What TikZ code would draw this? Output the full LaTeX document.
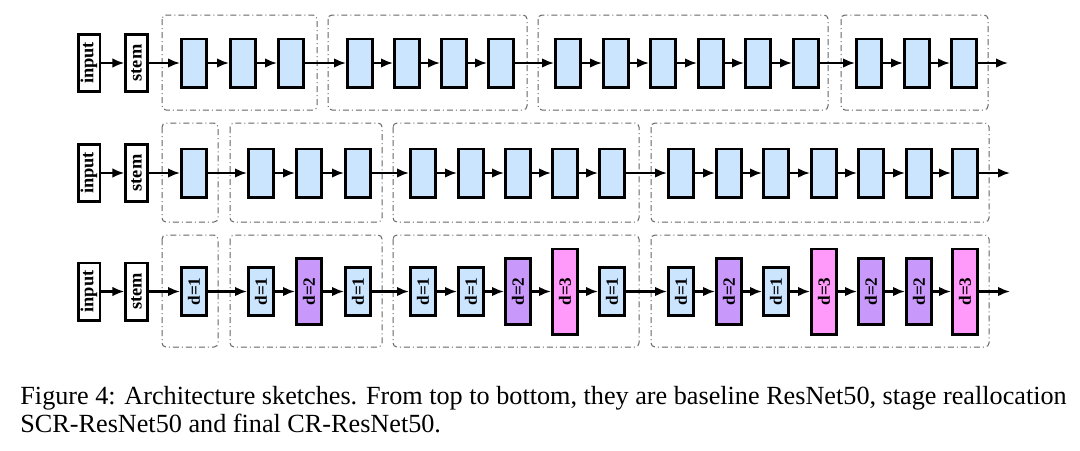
\documentclass[tikz,border=0pt]{standalone}
\usepackage{fontspec}
\setmainfont{Liberation Serif}
\usetikzlibrary{arrows.meta}

\definecolor{blkblue}{RGB}{204,229,255}
\definecolor{blkpurple}{RGB}{200,152,250}
\definecolor{blkpink}{RGB}{255,153,250}
\newcommand{\rlab}[1]{\rotatebox{90}{#1}}

\begin{document}
\begin{tikzpicture}[x=0.5pt,y=-0.5pt]
  \tikzset{io/.style={draw,line width=1.3pt,minimum width=10.8pt,minimum height=28.7pt,inner sep=0pt,
      font=\bfseries\fontsize{9.2}{10}\selectfont}}
  \tikzset{blk/.style={draw,line width=1.3pt,fill=blkblue,minimum width=12.7pt,minimum height=24.2pt,inner sep=0pt,
      font=\bfseries\fontsize{8.6}{10}\selectfont}}
  \tikzset{dtwo/.style={blk,fill=blkpurple,minimum height=33.2pt}}
  \tikzset{dthree/.style={blk,fill=blkpink,minimum height=42.7pt}}
  \tikzset{stagebox/.style={draw=black!60,line width=0.5pt,rounded corners=2pt,
      dash pattern=on 3pt off 1.5pt on 0.5pt off 1.5pt}}
  \tikzset{conn/.style={-{Latex[length=6pt,width=4.8pt]},line width=1.1pt}}
  \useasboundingbox (0,0) rectangle (1080,450);

 % stages
  \draw[stagebox] (162,15) rectangle (317,110);
  \draw[stagebox] (328,15) rectangle (527,110);
  \draw[stagebox] (538,15) rectangle (828,110);
  \draw[stagebox] (841,15) rectangle (988,110);

  \draw[stagebox] (162,123) rectangle (218,222);
  \draw[stagebox] (230,123) rectangle (382,222);
  \draw[stagebox] (393,123) rectangle (639,222);
  \draw[stagebox] (651,123) rectangle (989,222);

  \draw[stagebox] (162,235) rectangle (218,347);
  \draw[stagebox] (230,235) rectangle (382,347);
  \draw[stagebox] (393,235) rectangle (639,347);
  \draw[stagebox] (651,235) rectangle (989,347);

% baseline ResNet50
  \node[io] (in1) at (89,63) {\rlab{input}};
  \node[io] (stem1) at (136.5,63) {\rlab{stem}};
  \node[blk] (a1) at (194,63) {};
  \node[blk] (a2) at (243,63) {};
  \node[blk] (a3) at (291,63) {};
  \node[blk] (a4) at (360,63) {};
  \node[blk] (a5) at (407,63) {};
  \node[blk] (a6) at (454,63) {};
  \node[blk] (a7) at (501,63) {};
  \node[blk] (a8) at (568,63) {};
  \node[blk] (a9) at (616,63) {};
  \node[blk] (a10) at (663,63) {};
  \node[blk] (a11) at (711,63) {};
  \node[blk] (a12) at (758,63) {};
  \node[blk] (a13) at (806,63) {};
  \node[blk] (a14) at (869,63) {};
  \node[blk] (a15) at (917,63) {};
  \node[blk] (a16) at (964,63) {};
  \coordinate (ea) at (1008,63);

% SCR-ResNet50
  \node[io] (in2) at (89,173) {\rlab{input}};
  \node[io] (stem2) at (136.5,173) {\rlab{stem}};
  \node[blk] (b1) at (194,173) {};
  \node[blk] (b2) at (261,173) {};
  \node[blk] (b3) at (309,173) {};
  \node[blk] (b4) at (358,173) {};
  \node[blk] (b5) at (423,173) {};
  \node[blk] (b6) at (471,173) {};
  \node[blk] (b7) at (518,173) {};
  \node[blk] (b8) at (565,173) {};
  \node[blk] (b9) at (612,173) {};
  \node[blk] (b10) at (681,173) {};
  \node[blk] (b11) at (729,173) {};
  \node[blk] (b12) at (776,173) {};
  \node[blk] (b13) at (824,173) {};
  \node[blk] (b14) at (871,173) {};
  \node[blk] (b15) at (919,173) {};
  \node[blk] (b16) at (965,173) {};
  \coordinate (eb) at (1010,173);

% CR-ResNet50
  \node[io] (in3) at (89,291.5) {\rlab{input}};
  \node[io] (stem3) at (136.5,291.5) {\rlab{stem}};
  \node[blk] (c1) at (194,291.5) {\rlab{d=1}};
  \node[blk] (c2) at (261,291.5) {\rlab{d=1}};
  \node[dtwo] (c3) at (309,291.5) {\rlab{d=2}};
  \node[blk] (c4) at (358,291.5) {\rlab{d=1}};
  \node[blk] (c5) at (423,291.5) {\rlab{d=1}};
  \node[blk] (c6) at (471,291.5) {\rlab{d=1}};
  \node[dtwo] (c7) at (518,291.5) {\rlab{d=2}};
  \node[dthree] (c8) at (565,291.5) {\rlab{d=3}};
  \node[blk] (c9) at (612,291.5) {\rlab{d=1}};
  \node[blk] (c10) at (681,291.5) {\rlab{d=1}};
  \node[dtwo] (c11) at (729,291.5) {\rlab{d=2}};
  \node[blk] (c12) at (776,291.5) {\rlab{d=1}};
  \node[dthree] (c13) at (824,291.5) {\rlab{d=3}};
  \node[dtwo] (c14) at (871,291.5) {\rlab{d=2}};
  \node[dtwo] (c15) at (919,291.5) {\rlab{d=2}};
  \node[dthree] (c16) at (965,291.5) {\rlab{d=3}};
  \coordinate (ec) at (1010,291.5);

%arrows
  \path[conn] (in1) edge (stem1) (stem1) edge (a1) (a1) edge (a2) (a2) edge (a3) (a3) edge (a4)
    (a4) edge (a5) (a5) edge (a6) (a6) edge (a7) (a7) edge (a8) (a8) edge (a9) (a9) edge (a10)
    (a10) edge (a11) (a11) edge (a12) (a12) edge (a13) (a13) edge (a14) (a14) edge (a15)
    (a15) edge (a16) (a16) edge (ea);
  \path[conn] (in2) edge (stem2) (stem2) edge (b1) (b1) edge (b2) (b2) edge (b3) (b3) edge (b4)
    (b4) edge (b5) (b5) edge (b6) (b6) edge (b7) (b7) edge (b8) (b8) edge (b9) (b9) edge (b10)
    (b10) edge (b11) (b11) edge (b12) (b12) edge (b13) (b13) edge (b14) (b14) edge (b15)
    (b15) edge (b16) (b16) edge (eb);
  \path[conn] (in3) edge (stem3) (stem3) edge (c1) (c1) edge (c2) (c2) edge (c3) (c3) edge (c4)
    (c4) edge (c5) (c5) edge (c6) (c6) edge (c7) (c7) edge (c8) (c8) edge (c9) (c9) edge (c10)
    (c10) edge (c11) (c11) edge (c12) (c12) edge (c13) (c13) edge (c14) (c14) edge (c15)
    (c15) edge (c16) (c16) edge (ec);

% caption
  \node[anchor=base west,inner sep=0pt,font=\fontsize{13.1}{14}\selectfont] (cap1) at (20,404)
    {Figure 4: Architecture sketches. From top to bottom, they are baseline ResNet50, stage reallocation};
  \node[anchor=base west,inner sep=0pt,font=\fontsize{13.1}{14}\selectfont] (cap2) at (20,432)
    {SCR-ResNet50 and final CR-ResNet50.};
\end{tikzpicture}
\end{document}
